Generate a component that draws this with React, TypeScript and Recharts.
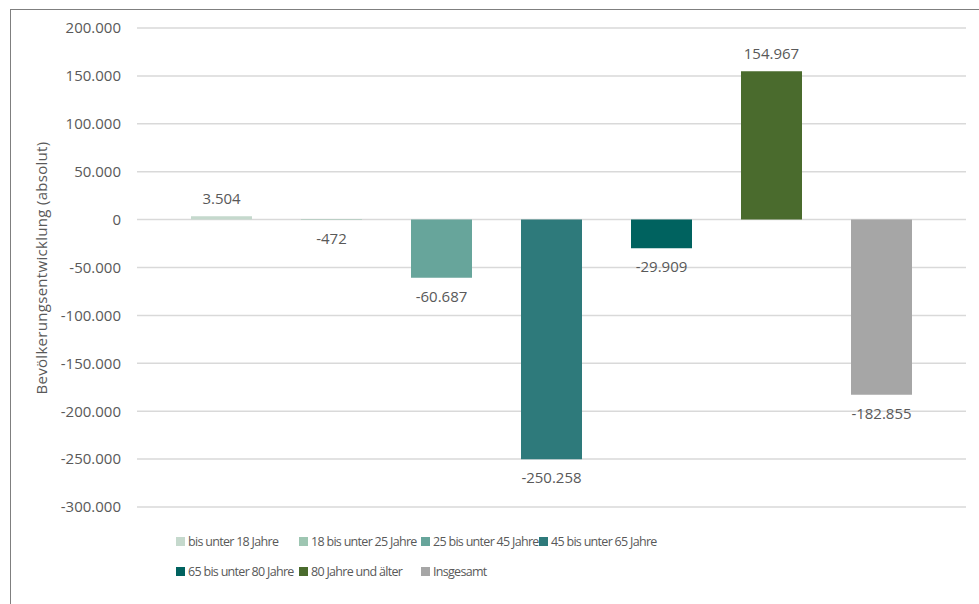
import React from "react";
import { BarChart, Bar, XAxis, YAxis, CartesianGrid, Legend, LabelList } from "recharts";

const seriesNames = [
  "bis unter 18 Jahre",
  "18 bis unter 25 Jahre",
  "25 bis unter 45 Jahre",
  "45 bis unter 65 Jahre",
  "65 bis unter 80 Jahre",
  "80 Jahre und älter",
  "Insgesamt",
];
const seriesValues = [3504, -472, -60687, -250258, -29909, 154967, -182855];
const seriesColors = ["#c5d9cd", "#9ec6b2", "#67a59b", "#2e7a7b", "#00625f", "#4a6b2d", "#a6a6a6"];
const yTicks = [-300000, -250000, -200000, -150000, -100000, -50000, 0, 50000, 100000, 150000, 200000];

const row: Record<string, string | number> = { name: "Bevölkerung" };
seriesNames.forEach((n, i) => {
  row[`s${i}`] = seriesValues[i];
});
const data = [row];

const FONT = "'Open Sans', sans-serif";
const TEXT = "#595959";

const fmt = (v: number) => {
  const s = Math.abs(v).toString().replace(/\B(?=(\d{3})+(?!\d))/g, ".");
  return (v < 0 ? "-" : "") + s;
};

const ValueLabel = (props: any) => {
  const { x, y, width, height, value } = props;
  const neg = value < 0;
  const y1 = Math.min(y, y + height);
  const y2 = Math.max(y, y + height);
  const yy = neg ? y2 + 24 : y1 - 12;
  return (
    <text x={x + width / 2} y={yy} textAnchor="middle" fill={TEXT} fontSize={15} fontFamily={FONT}>
      {fmt(value)}
    </text>
  );
};

const LegendContent = () => (
  <div
    style={{
      display: "grid",
      gridTemplateColumns: "123px 122px 118px auto",
      rowGap: 13,
      fontFamily: FONT,
      fontSize: 12.5,
      color: TEXT,
      letterSpacing: -0.7,
    }}
  >
    {seriesNames.map((n, i) => (
      <div key={n} style={{ display: "flex", alignItems: "center", whiteSpace: "nowrap" }}>
        <span
          style={{
            width: 9,
            height: 9,
            flexShrink: 0,
            background: seriesColors[i],
            marginRight: 3,
            display: "inline-block",
          }}
        />
        {n}
      </div>
    ))}
  </div>
);

export default function App() {
  return (
    <div style={{ position: "absolute", left: 0, top: 0, width: 979, height: 604, background: "#fff", overflow: "hidden" }}>
      <div
        style={{
          position: "absolute",
          left: 10,
          top: 9,
          width: 990,
          height: 620,
          borderLeft: "1px solid #7f7f7f",
          borderTop: "1px solid #7f7f7f",
        }}
      />
      <BarChart
        width={979}
        height={604}
        data={data}
        margin={{ top: 28, right: 13, left: 65, bottom: 97 }}
        barSize={61}
        barGap={49}
        style={{ position: "absolute", left: 0, top: 0 }}
      >
        <CartesianGrid vertical={false} stroke="#d9d9d9" strokeWidth={1.5} />
        <XAxis dataKey="name" hide />
        <YAxis
          domain={[-300000, 200000]}
          ticks={yTicks}
          interval={0}
          width={72}
          axisLine={false}
          tickLine={false}
          tickFormatter={fmt}
          tick={{ fill: TEXT, fontSize: 15, fontFamily: FONT }}
          tickMargin={10}
          label={{
            value: "Bevölkerungsentwicklung (absolut)",
            angle: -90,
            position: "insideLeft",
            dx: -28,
            dy: 127,
            fill: TEXT,
            fontSize: 15,
            fontFamily: FONT,
            style: { letterSpacing: 0.3 },
          }}
        />
        <Legend
          layout="vertical"
          align="center"
          verticalAlign="middle"
          content={<LegendContent />}
          wrapperStyle={{ left: 176, top: 533, width: 700, height: 60 }}
        />
        {seriesNames.map((n, i) => (
          <Bar key={n} dataKey={`s${i}`} name={n} fill={seriesColors[i]} isAnimationActive={false}>
            <LabelList dataKey={`s${i}`} content={<ValueLabel />} />
          </Bar>
        ))}
      </BarChart>
    </div>
  );
}
